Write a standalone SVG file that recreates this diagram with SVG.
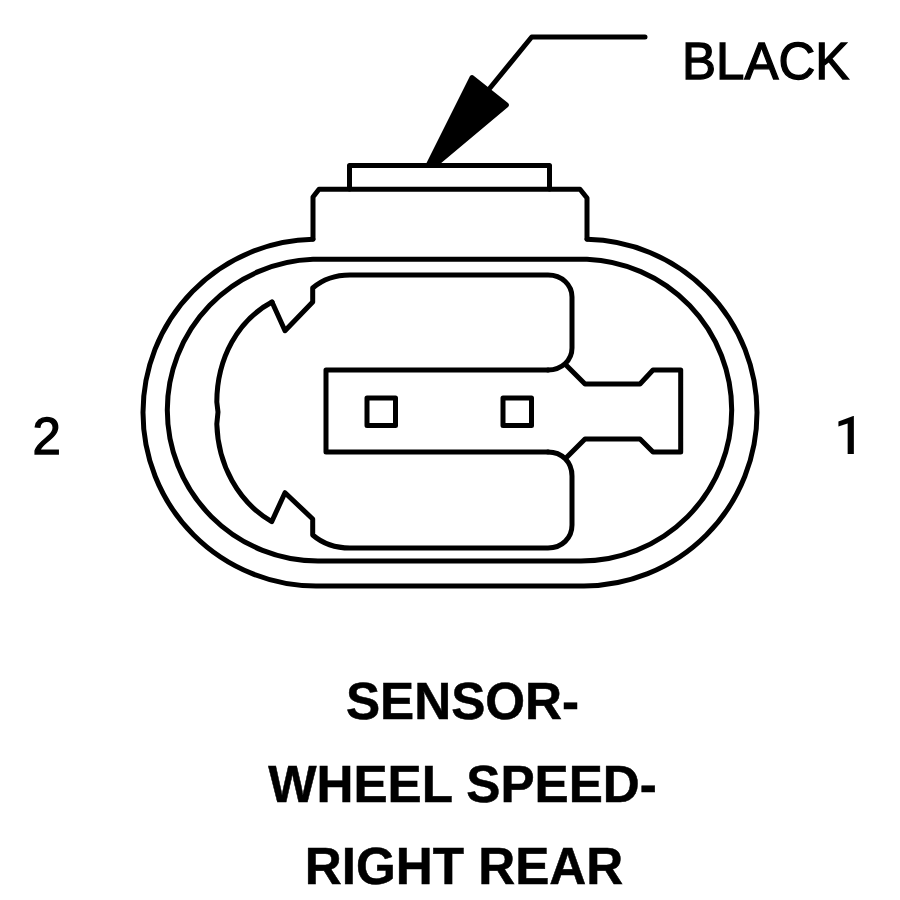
<svg xmlns="http://www.w3.org/2000/svg" width="900" height="900" viewBox="0 0 900 900">
<style>
.l{fill:none;stroke:#000;stroke-width:5;stroke-linejoin:round;stroke-linecap:round}
.r{font-family:"Liberation Sans",Arial,sans-serif;fill:#000;stroke:#000;stroke-width:1.300;font-size:51px}
.b{font-family:"Liberation Sans",Arial,sans-serif;font-weight:bold;font-size:51.200px;fill:#000;stroke:#000;stroke-width:.5;text-anchor:middle}
</style>
<rect width="900" height="900" fill="#fff"/>
<g id="connector-body">
<path class="l" d="M313 239 L313 197 L319 189.300 L580 189.300 L587 198 L587 239"/>
<path class="l" d="M349.500 189 V165.500 H549.500 V189"/>
<path class="l" d="M313 239.300 A173.500 173.500 0 0 0 143 412.500 A173.500 173.500 0 0 0 316 586 H584 A173.500 173.500 0 0 0 757 412.500 A173.500 173.500 0 0 0 587 239.300"/>
<path class="l" d="M313 259.300 A151 151 0 0 0 167.300 410 A151 151 0 0 0 318 561 H581 A151 151 0 0 0 731.700 410 A151 151 0 0 0 587 259.300 Z"/>
</g>
<g id="cavity">
<path class="l" d="M272 302 C238 320 217 358 216.800 402 L218 412 L216.800 424 C218 465 238 502 271.700 521.700 L285 492.700 L312.700 519 V535 C322 543 335 548 350 548 H548 C562 548 572 538 572 525 V476 C572 462 562 452 548 452"/>
<path class="l" d="M272 302 L285 330.700 L312.700 302 V288 C322 280 335 275 350 275 H548 C562 275 572 285 572 297 V348 C572 360 562 370 548 370"/>
</g>
<g id="terminal">
<path class="l" d="M566 365 L585 384 H640 L653 370 H680.700 V452 H653 L640 439 H585 L566 458"/>
<path class="l" d="M548 370 H326 V452 H548"/>
<rect class="l" x="367" y="398" width="28.500" height="27.500"/>
<rect class="l" x="503" y="398" width="28.500" height="27.500"/>
</g>
<g id="black-leader">
<path class="l" d="M645 37 H531.700 L490 88"/>
<path d="M426 164 L470 76 Q472 74 474 76 L508 103 Q510 105 508 107 L440 164 Z" fill="#000"/>
</g>
<g id="labels">
<text class="r" x="682" y="79">BLACK</text>
<text class="r" x="32.500" y="453.500">2</text>
<text x="834" y="454" font-family="Roboto,sans-serif" font-weight="500" font-size="53" fill="#000">1</text>
<text class="b" x="462.500" y="719">SENSOR-</text>
<text class="b" x="462.500" y="802">WHEEL SPEED-</text>
<text class="b" x="464" y="884">RIGHT REAR</text>
</g>
</svg>
